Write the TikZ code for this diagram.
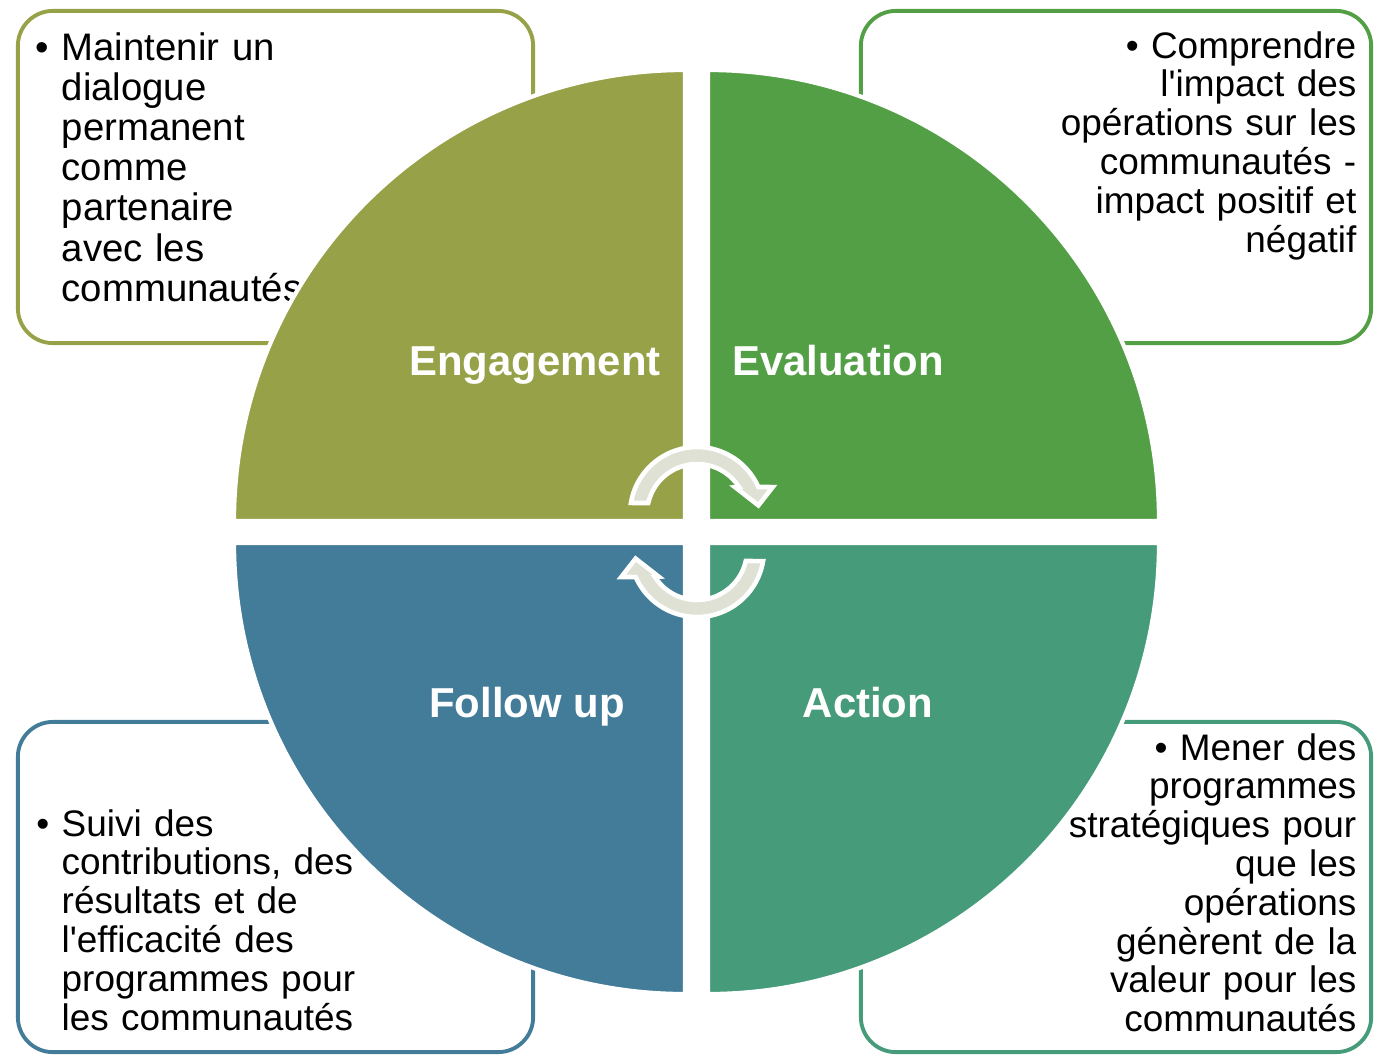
\documentclass[tikz,border=0pt]{standalone}
\usepackage{fontspec}
\setmainfont{Liberation Sans}
\usepackage{tikz}
\definecolor{engcol}{HTML}{97A148}
\definecolor{evalcol}{HTML}{539F46}
\definecolor{followcol}{HTML}{437C99}
\definecolor{actcol}{HTML}{469B7A}
\definecolor{arrowcol}{HTML}{DEE1D3}
\newcommand\bodyfont{\fontsize{10.5}{11.04}\selectfont}
\newcommand\bigbodyfont{\fontsize{10.9}{11.44}\selectfont}
\newcommand\phasefont{\fontsize{11.9}{14}\selectfont\bfseries}

\begin{document}
\begin{tikzpicture}
			[
				x = 0.01cm, y = 0.01cm,
				box/.style = {rectangle, rounded corners = 0.35cm, line width = 1.1pt, fill = white, minimum width = 5.15cm, minimum height = 3.32cm},
				boxtext/.style = {inner sep = 0pt, font = \bodyfont, text width = 4.2cm},
				quadrant/.style = {draw = white, line width = 1.2pt},
				phase/.style = {font = \phasefont, text = white, anchor = base},
				cyclearrow/.style = {fill = arrowcol, draw = white, line width = 1.3pt},
			]
			\useasboundingbox (0,0) rectangle (1374,-1057);
			% boxes behind the circle
			\node (engbox) [box, draw = engcol] at (275.5,-177) {};
			\node (evalbox) [box, draw = evalcol, minimum width = 5.1cm] at (1116,-177) {};
			\node (followbox) [box, draw = followcol, minimum height = 3.3cm] at (275.5,-887) {};
			\node (actbox) [box, draw = actcol, minimum width = 5.1cm, minimum height = 3.3cm] at (1116,-887) {};
			\node (engtext) [boxtext, font = \bigbodyfont, align = left, anchor = base west] at (61,-60)
				{\llap{\textbullet\ }Maintenir un\\dialogue\\permanent\\comme\\partenaire\\avec les\\communautés};
			\node (evaltext) [boxtext, align = right, anchor = base east] at (1357,-58)
				{\textbullet\ Comprendre\\l\textquotesingle impact des\\opérations sur les\\communautés -\\impact positif et\\négatif};
			\node (followtext) [boxtext, align = left, anchor = base west] at (61,-836)
				{\llap{\textbullet\ }Suivi des\\contributions, des\\résultats et de\\l\textquotesingle efficacité des\\programmes pour\\les communautés};
			\node (acttext) [boxtext, align = right, anchor = base east] at (1357,-760)
				{\textbullet\ Mener des\\programmes\\stratégiques pour\\que les\\opérations\\génèrent de la\\valeur pour les\\communautés};
			% the four quarters
			\filldraw [quadrant, fill = engcol] (685,-521) -- ++(-451,0) arc[start angle = 180, end angle = 90, radius = 451] -- cycle;
			\filldraw [quadrant, fill = evalcol] (708,-521) -- ++(0,451) arc[start angle = 90, end angle = 0, radius = 451] -- cycle;
			\filldraw [quadrant, fill = followcol] (685,-543) -- ++(0,-451) arc[start angle = 270, end angle = 180, radius = 451] -- cycle;
			\filldraw [quadrant, fill = actcol] (708,-543) -- ++(451,0) arc[start angle = 0, end angle = -90, radius = 451] -- cycle;
			\node (engagement) [phase] at (535,-375) {Engagement};
			\node (evaluation) [phase] at (838,-375) {Evaluation};
			\node (followup) [phase] at (527,-717) {Follow up};
			\node (action) [phase] at (868,-717) {Action};
			% cycle arrows in the middle
			\foreach \r in {0,180}
				\draw [cyclearrow, rotate around = {\r:(697,-532)}, shift = {(697,-514)}]
					(170.5:67) arc[start angle = 170.5, end angle = 23.8, radius = 67]
					-- (19.6:80.4) -- (8:62) -- (35:46.6) -- (32.7:50)
					arc[start angle = 32.7, end angle = 167.3, radius = 50] -- cycle;
		\end{tikzpicture}
\end{document}
